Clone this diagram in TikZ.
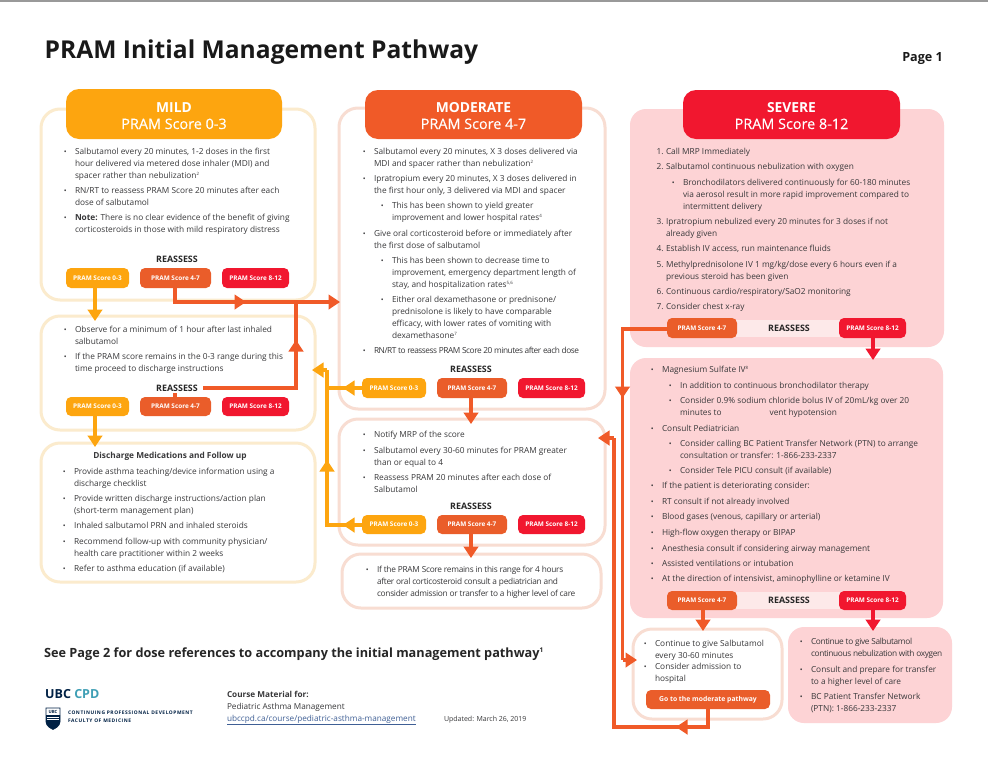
\documentclass[tikz,border=0pt]{standalone}
\usepackage{fontspec}
\setmainfont{Open Sans}
\usetikzlibrary{arrows.meta}
\definecolor{cAmber}{HTML}{FDA50F}
\definecolor{cOrange}{HTML}{F05A28}
\definecolor{cOrangeD}{HTML}{EA5D2A}
\definecolor{cRed}{HTML}{F1172F}
\definecolor{pAmber}{HTML}{FBEBCD}
\definecolor{pOrange}{HTML}{F8DDD2}
\definecolor{cPink}{HTML}{FDD3D5}
\definecolor{cBand}{HTML}{FDE9E9}
\definecolor{cText}{HTML}{38383A}
\definecolor{cNavy}{HTML}{002145}
\definecolor{cTeal}{HTML}{3F9FB5}
\definecolor{cLink}{HTML}{3F5F95}
\newcommand{\szt}{\fontsize{8.3}{12}\selectfont}
\newcommand{\spz}[1]{\raisebox{2.8pt}{\fontsize{4.4}{5}\selectfont #1}}
\newcommand{\mlt}[1]{\begin{tabular}[t]{@{}l@{}}#1\end{tabular}}
\tikzset{
  txt/.style={inner sep=0pt,outer sep=0pt,anchor=base west,text=cText,font=\szt},
  opbox/.style={draw=pAmber,line width=3pt,rounded corners=19pt,fill=white,inner sep=0pt,outer sep=0pt},
  obbox/.style={draw=pOrange,line width=3pt,rounded corners=19pt,fill=white,inner sep=0pt,outer sep=0pt},
  pkbox/.style={fill=cPink,rounded corners=16pt,inner sep=0pt,outer sep=0pt},
  head/.style={rounded corners=13pt,inner sep=0pt,outer sep=0pt,text=white},
  pill/.style={rounded corners=5pt,inner sep=0pt,outer sep=0pt,text=white,font=\fontsize{6.4}{7}\selectfont\bfseries},
  band/.style={fill=cBand,inner sep=0pt,outer sep=0pt},
  reas/.style={inner sep=0pt,outer sep=0pt,anchor=base,font=\fontsize{8.9}{10}\selectfont\bfseries,text=black!85},
  reasw/.style={reas,fill=white,inner xsep=5.5pt,inner ysep=2pt},
  hT/.style={inner sep=0pt,anchor=base,text=white,font=\fontsize{13.8}{15}\selectfont\bfseries},
  hS/.style={inner sep=0pt,anchor=base,text=white,font=\fontsize{14.4}{16}\selectfont\addfontfeature{FakeBold=0.25}},
  line/.style={line width=3.4pt},
  tip/.style={line width=3.4pt,-{Triangle[length=11.5pt,width=14.5pt]},shorten >=0pt},
}
\newcommand{\bx}[6]{\pgfmathsetmacro{\wA}{#5-#3}\pgfmathsetmacro{\hA}{#6-#4}\pgfmathsetmacro{\cxA}{(#3+#5)/2}\pgfmathsetmacro{\cyA}{(#4+#6)/2}%
  \node[#1,minimum width=\wA pt,minimum height=\hA pt] (#2) at (\cxA,\cyA) {};}
\newcommand{\pl}[7]{\pgfmathsetmacro{\wA}{#5-#3}\pgfmathsetmacro{\hA}{#6-#4}\pgfmathsetmacro{\cxA}{(#3+#5)/2}\pgfmathsetmacro{\cyA}{(#4+#6)/2}%
  \node[pill,fill=#1,minimum width=\wA pt,minimum height=\hA pt] (#2) at (\cxA,\cyA) {#7};}
\newcommand{\blt}[4]{\node[txt] (#1) at (#2,#3) {\llap{\fontsize{7.5}{7}\selectfont\textbullet\hspace{8.2pt}}\mlt{#4}};}
\newcommand{\num}[5]{\node[txt] (#1) at (#2,#3) {\llap{#4\hspace{2.5pt}}\mlt{#5}};}
\begin{document}
\begin{tikzpicture}[x=1pt,y=-1pt]
\useasboundingbox (0,0) rectangle (988,769);
\fill[white] (0,0) rectangle (988,769);
\fill[black!40] (0,0) rectangle (988,2);
\node[inner sep=0pt,anchor=base west,font=\fontsize{24.6}{26}\selectfont\bfseries,text=black!90] (title) at (44.5,58) {PRAM Initial Management Pathway};
\node[inner sep=0pt,anchor=base east,font=\fontsize{12.6}{14}\selectfont\bfseries,text=black!90] (page) at (943,61) {Page 1};
% boxes
\bx{opbox}{mb1}{41}{109}{315}{300}
\bx{opbox}{mb2}{41}{316}{315}{430}
\bx{opbox}{mb3}{41}{443}{315}{582}
\bx{obbox}{ob1}{339}{108}{605}{409}
\bx{obbox}{ob2}{339}{419}{605}{545}
\bx{obbox}{ob3}{342}{554}{601}{608}
\bx{pkbox}{sb1}{630}{109}{944}{347}
\bx{pkbox}{sb2}{630}{358}{943}{618}
\bx{obbox}{sb3}{633}{629}{782}{719}
\bx{pkbox}{sb4}{788}{627}{952}{723}
\bx{band}{bd1}{730}{320}{845}{337}
\bx{band}{bd2}{730}{592}{845}{609}
% headers
\bx{head,fill=cAmber}{hm}{66}{89}{282}{139}
\bx{head,fill=cOrange}{ho}{365}{90}{582}{139}
\bx{head,fill=cRed}{hs}{683}{90}{900}{139}
\node[hT] (hm1) at (174,112) {MILD};
\node[hS] (hm2) at (174,129) {PRAM Score 0-3};
\node[hT] (ho1) at (473.5,112) {MODERATE};
\node[hS] (ho2) at (473.5,129) {PRAM Score 4-7};
\node[hT] (hs1) at (791.5,112) {SEVERE};
\node[hS] (hs2) at (791.5,129) {PRAM Score 8-12};
% pills
\pl{cAmber}{p1a}{66}{268}{129}{288}{PRAM Score 0-3}
\pl{cOrangeD}{p1b}{140}{268}{211}{288}{PRAM Score 4-7}
\pl{cRed}{p1c}{222}{268}{289}{288}{PRAM Score 8-12}
\pl{cAmber}{p2a}{66}{397}{129}{416}{PRAM Score 0-3}
\pl{cOrangeD}{p2b}{140}{397}{211}{416}{PRAM Score 4-7}
\pl{cRed}{p2c}{222}{397}{289}{416}{PRAM Score 8-12}
\pl{cAmber}{p3a}{362}{378}{426}{398}{PRAM Score 0-3}
\pl{cOrangeD}{p3b}{437}{378}{507}{398}{PRAM Score 4-7}
\pl{cRed}{p3c}{518}{378}{585}{398}{PRAM Score 8-12}
\pl{cAmber}{p4a}{362}{515}{426}{534}{PRAM Score 0-3}
\pl{cOrangeD}{p4b}{437}{515}{507}{534}{PRAM Score 4-7}
\pl{cRed}{p4c}{518}{515}{585}{534}{PRAM Score 8-12}
\pl{cOrangeD}{p5b}{667}{318}{737}{338}{PRAM Score 4-7}
\pl{cRed}{p5c}{839}{318}{906}{338}{PRAM Score 8-12}
\pl{cOrangeD}{p6b}{667}{591}{737}{610}{PRAM Score 4-7}
\pl{cRed}{p6c}{839}{591}{906}{610}{PRAM Score 8-12}
\pl{cOrangeD}{gomod}{646}{690}{770}{709}{\fontsize{6.8}{7}\selectfont Go to the moderate pathway}
% named connector points
\coordinate (a1t) at (95,321);
\coordinate (a2t) at (95,447);
\coordinate (bj) at (175,302);
\coordinate (bm) at (246,302);
\coordinate (bk) at (296,302);
\coordinate (be) at (340,302);
\coordinate (cs) at (175,388);
\coordinate (ck) at (296,388);
\coordinate (cm) at (296,340);
\coordinate (dk) at (327,525);
\coordinate (dm) at (343,525);
\coordinate (dk2) at (327,388);
\coordinate (dm2) at (343,388);
\coordinate (du) at (327,460);
\coordinate (dt) at (327,370);
\coordinate (de) at (312,370);
\coordinate (o1) at (471,424);
\coordinate (o2) at (471,558);
\coordinate (s1) at (873,360);
\coordinate (s2) at (703,631);
\coordinate (s3) at (873,631);
\coordinate (e1) at (622.5,329);
\coordinate (e2) at (622.5,398);
\coordinate (e3) at (622.5,660);
\coordinate (e4) at (637,660);
\coordinate (f1) at (708,727);
\coordinate (f2) at (676,727);
\coordinate (f3) at (614,727);
\coordinate (f4) at (614,438);
\coordinate (f5) at (598,438);
% connectors (drawn before reassess labels)
\draw[tip,draw=cAmber] (p1a.south -| a1t) -- (a1t);
\draw[tip,draw=cAmber] (p2a.south -| a2t) -- (a2t);
\draw[line,draw=cOrange,line join=miter] (p1b.south -| bj) -- (bj) -- (bk);
\draw[tip,draw=cOrange] (bj) -- (bm);
\draw[tip,draw=cOrange] (bk) -- (be);
\draw[line,draw=cOrange,line join=miter] (p2b.north -| cs) -- (cs) -- (ck) -- (bk);
\draw[tip,draw=cOrange] (ck) -- (cm);
\draw[line,draw=cAmber,line join=miter] (p4a.west |- dk) -- (dk) -- (dt);
\draw[tip,draw=cAmber] (p4a.west |- dk) -- (dm);
\draw[tip,draw=cAmber] (dt) -- (de);
\draw[line,draw=cAmber] (p3a.west |- dk2) -- (dk2);
\draw[tip,draw=cAmber] (p3a.west |- dk2) -- (dm2);
\draw[tip,draw=cAmber] (dk) -- (du);
\draw[tip,draw=cOrange] (p3b.south -| o1) -- (o1);
\draw[tip,draw=cOrange] (p4b.south -| o2) -- (o2);
\draw[tip,draw=cRed] (p5c.south -| s1) -- (s1);
\draw[tip,draw=cOrange] (p6b.south -| s2) -- (s2);
\draw[tip,draw=cRed] (p6c.south -| s3) -- (s3);
\draw[line,draw=cOrange,line join=miter] (p5b.west |- e1) -- (e1) -- (e3);
\draw[tip,draw=cOrange] (e1) -- (e2);
\draw[tip,draw=cOrange] (e3) -- (e4);
\draw[line,draw=cOrange,line join=miter] (gomod.south -| f1) -- (f1) -- (f3) -- (f4);
\draw[tip,draw=cOrange] (f1) -- (f2);
\draw[tip,draw=cOrange] (f4) -- (f5);
% reassess
\node[reas] (r1) at (177,262.5) {REASSESS};
\node[reasw] (r2) at (177,391) {REASSESS};
\node[reas] (r3) at (471,372) {REASSESS};
\node[reas] (r4) at (471,509) {REASSESS};
\node[reas] (r5) at (789,331) {REASSESS};
\node[reas] (r6) at (789,603) {REASSESS};
% mild text
\blt{t1}{75}{154}{Salbutamol every 20 minutes, 1-2 doses in the first\\hour delivered via metered dose inhaler (MDI) and\\spacer rather than nebulization\spz{2}}
\blt{t2}{75}{193}{RN/RT to reassess PRAM Score 20 minutes after each\\dose of salbutamol}
\blt{t3}{75}{220}{\textbf{Note:} There is no clear evidence of the benefit of giving\\corticosteroids in those with mild respiratory distress}
\blt{t4}{75}{332}{Observe for a minimum of 1 hour after last inhaled\\salbutamol}
\blt{t5}{75}{359}{If the PRAM score remains in the 0-3 range during this\\time proceed to discharge instructions}
\node[txt,anchor=base] (t6) at (170,458.5) {\textbf{Discharge Medications and Follow up}};
\blt{t7}{74}{474}{Provide asthma teaching/device information using a\\discharge checklist}
\blt{t8}{74}{501}{Provide written discharge instructions/action plan\\(short-term management plan)}
\blt{t9}{74}{528.5}{Inhaled salbutamol PRN and inhaled steroids}
\blt{t10}{74}{544}{Recommend follow-up with community physician/\\health care practitioner within 2 weeks}
\blt{t11}{74}{571}{Refer to asthma education (if available)}
% moderate text
\blt{u1}{374}{154}{Salbutamol every 20 minutes, X 3 doses delivered via\\MDI and spacer rather than nebulization\spz{2}}
\blt{u2}{374}{181}{Ipratropium every 20 minutes, X 3 doses delivered in\\the first hour only, 3 delivered via MDI and spacer}
\blt{u3}{392}{208}{This has been shown to yield greater\\improvement and lower hospital rates\spz{4}}
\blt{u4}{374}{236}{Give oral corticosteroid before or immediately after\\the first dose of salbutamol}
\blt{u5}{392}{263}{This has been shown to decrease time to\\improvement, emergency department length of\\stay, and hospitalization rates\spz{5,6}}
\blt{u6}{392}{302}{Either oral dexamethasone or prednisone/\\prednisolone is likely to have comparable\\efficacy, with lower rates of vomiting with\\dexamethasone\spz{7}}
\blt{u7}{374}{353}{\addfontfeature{LetterSpace=-5.4}RN/RT to reassess PRAM Score 20 minutes after each dose}
\blt{u8}{374}{437}{Notify MRP of the score}
\blt{u9}{374}{453}{Salbutamol every 30-60 minutes for PRAM greater\\than or equal to 4}
\blt{u10}{374}{480}{Reassess PRAM 20 minutes after each dose of\\Salbutamol}
\blt{u11}{377}{572}{\addfontfeature{LetterSpace=-3.2}If the PRAM Score remains in this range for 4 hours\\\addfontfeature{LetterSpace=-3.2}after oral corticosteroid consult a pediatrician and\\\addfontfeature{LetterSpace=-3.2}consider admission or transfer to a higher level of care}
% severe text
\num{v1}{666}{154}{1.}{Call MRP Immediately}
\num{v2}{666}{169}{2.}{Salbutamol continuous nebulization with oxygen}
\blt{v3}{683}{185}{Bronchodilators delivered continuously for 60-180 minutes\\via aerosol result in more rapid improvement compared to\\intermittent delivery}
\num{v4}{666}{224}{3.}{Ipratropium nebulized every 20 minutes for 3 doses if not\\already given}
\num{v5}{666}{251}{4.}{Establish IV access, run maintenance fluids}
\num{v6}{666}{267}{5.}{Methylprednisolone IV 1 mg/kg/dose every 6 hours even if a\\previous steroid has been given}
\num{v7}{666}{294}{6.}{Continuous cardio/respiratory/SaO2 monitoring}
\num{v8}{666}{309}{7.}{Consider chest x-ray}
\blt{w1}{662}{372}{Magnesium Sulfate IV\spz{8}}
\blt{w2}{680}{388}{In addition to continuous bronchodilator therapy}
\blt{w3}{680}{403}{Consider 0.9\% sodium chloride bolus IV of 20mL/kg over 20\\minutes to\hspace{48pt}vent hypotension}
\blt{w4}{662}{431}{Consult Pediatrician}
\blt{w5}{680}{446}{Consider calling BC Patient Transfer Network (PTN) to arrange\\consultation or transfer: 1-866-233-2337}
\blt{w6}{680}{473}{Consider Tele PICU consult (if available)}
\blt{w7}{662}{488}{If the patient is deteriorating consider:}
\blt{w8}{662}{504}{RT consult if not already involved}
\blt{w9}{662}{519}{Blood gases (venous, capillary or arterial)}
\blt{w10}{662}{535}{High-flow oxygen therapy or BIPAP}
\blt{w11}{662}{551}{Anesthesia consult if considering airway management}
\blt{w12}{662}{566}{Assisted ventilations or intubation}
\blt{w13}{662}{581}{At the direction of intensivist, aminophylline or ketamine IV}
\blt{x1}{655}{646}{Continue to give Salbutamol\\every 30-60 minutes}
\blt{x2}{655}{669}{Consider admission to\\hospital}
\blt{y1}{811}{644}{\addfontfeature{LetterSpace=-4.1}Continue to give Salbutamol\\\addfontfeature{LetterSpace=-4.1}continuous nebulization with oxygen}
\blt{y2}{811}{672}{Consult and prepare for transfer\\to a higher level of care}
\blt{y3}{811}{699}{BC Patient Transfer Network\\(PTN): 1-866-233-2337}
% footer
\node[inner sep=0pt,anchor=base west,font=\fontsize{12.7}{14}\selectfont\bfseries,text=black!85] (see) at (44,657) {See Page 2 for dose references to accompany the initial management pathway\raisebox{4.5pt}{\fontsize{6.5}{7}\selectfont 1}};
\node[inner sep=0pt,anchor=base west,font=\fontsize{12.5}{14}\selectfont\bfseries] (ubc) at (45,698) {\textcolor{cNavy}{UBC} \textcolor{cTeal}{CPD}};
% UBC crest
\draw[cNavy,fill=white,line width=.6pt] (46,708) -- (60,708) -- (60,722) .. controls (60,726) and (55,728.5) .. (53,729.5) .. controls (51,728.5) and (46,726) .. (46,722) -- cycle;
\fill[cNavy] (46,715) rectangle (60,722) (46,722) .. controls (46,726) and (51,728.5) .. (53,729.5) .. controls (55,728.5) and (60,726) .. (60,722) -- cycle;
\draw[white,line width=.5pt] (47,717) -- (59,717) (47,719.5) -- (59,719.5);
\node[inner sep=0pt,font=\fontsize{4.3}{4}\selectfont\bfseries,text=cNavy] (lg) at (53,711.6) {UBC};
\node[txt,font=\fontsize{4.9}{8}\selectfont\bfseries,text=cNavy] (dep) at (68,714) {\mlt{\addfontfeature{LetterSpace=11}CONTINUING PROFESSIONAL DEVELOPMENT\\\addfontfeature{LetterSpace=11}FACULTY OF MEDICINE}};
\node[txt,font=\fontsize{8.2}{12}\selectfont] (cm1) at (227,697) {\mlt{\textbf{Course Material for:}\\Pediatric Asthma Management\\\textcolor{cLink}{\underline{ubccpd.ca/course/pediatric-asthma-management}}}};
\node[txt,font=\fontsize{7.0}{12}\selectfont] (upd) at (444,721) {Updated: March 26, 2019};
\end{tikzpicture}
\end{document}
